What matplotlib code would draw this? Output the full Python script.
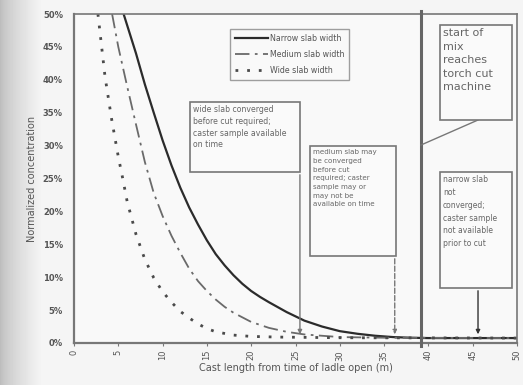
import matplotlib.pyplot as plt
import numpy as np
from matplotlib.patches import Rectangle

# cast length (m) and normalized concentration
narrow_x = [5.6, 7, 8, 9, 10, 11, 12, 13, 14, 15, 16, 17, 18, 19, 20, 21, 22, 24, 26, 28, 30, 32, 34, 36, 38, 40, 50]
narrow_y = [0.50, 0.44, 0.393, 0.35, 0.308, 0.27, 0.236, 0.206, 0.18, 0.156, 0.135, 0.118, 0.103, 0.09, 0.079,
            0.07, 0.062, 0.047, 0.034, 0.025, 0.018, 0.014, 0.011, 0.009, 0.008, 0.0075, 0.0075]

medium_x = [4.3, 5, 6, 7, 8, 9, 10, 11, 12, 13, 14, 15, 16, 17, 18, 20, 22, 24, 26, 28, 30, 35, 50]
medium_y = [0.50, 0.45, 0.39, 0.332, 0.275, 0.228, 0.193, 0.163, 0.137, 0.113, 0.094, 0.079, 0.066, 0.055,
            0.046, 0.032, 0.023, 0.017, 0.013, 0.011, 0.009, 0.008, 0.0075]

wide_x = [2.7, 3.5, 4.25, 5, 5.5, 6, 7, 8, 9, 10, 11, 12, 13, 14, 15, 16, 18, 20, 23, 30, 50]
wide_y = [0.50, 0.405, 0.34, 0.283, 0.25, 0.215, 0.165, 0.127, 0.099, 0.078, 0.062, 0.048, 0.038, 0.029,
          0.022, 0.017, 0.012, 0.010, 0.009, 0.008, 0.0075]

x_ticks = [0, 5, 10, 15, 20, 25, 30, 35, 40, 45, 50]
y_ticks = [0, 0.05, 0.10, 0.15, 0.20, 0.25, 0.30, 0.35, 0.40, 0.45, 0.50]

wide_marker_x = 25.5
medium_marker_x = 36.2
torch_x = 39.2
narrow_marker_x = 45.6

W, H = 523, 385
L, R, T, B = 74, 517, 14, 343

fig = plt.figure(figsize=(W / 100, H / 100), dpi=100, facecolor='#f3f3f3')

# darker scan shading on the left edge
bg = fig.add_axes([0, 0, 1, 1], zorder=-5)
grad = np.linspace(0, 1, 523)
shade = np.clip(grad / 0.08, 0, 1) ** 0.7
img = 0.74 + 0.22 * shade
bg.imshow(np.tile(img, (10, 1)), cmap='gray', vmin=0, vmax=1, aspect='auto', extent=[0, 1, 0, 1])
bg.axis('off')

ax = fig.add_axes([L / W, 1 - B / H, (R - L) / W, (B - T) / H])
ax.set_facecolor('#f9f9f9')


def fx(px):
    return (px - L) / (R - L)


def fy(py):
    return (B - py) / (B - T)


ax.plot(narrow_x, narrow_y, color='#2b2b2b', lw=1.6, label='Narrow slab width')
ax.plot(medium_x, medium_y, color='#6a6a6a', lw=1.3, ls=(0, (8, 3, 1.5, 3)), label='Medium slab width')
ax.plot(wide_x, wide_y, color='#4a4a4a', lw=2.0, ls=(0, (1, 3.2)), label='Wide slab width')

ax.set_xlim(0, 50)
ax.set_ylim(0, 0.5)
ax.set_xticks(x_ticks)
ax.set_xticklabels([str(v) for v in x_ticks], rotation=90, fontsize=6, color='#555')
ax.set_yticks(y_ticks)
ax.set_yticklabels(['%d%%' % round(v * 100) for v in y_ticks], fontsize=6, color='#555', fontweight='bold')
ax.tick_params(axis='x', length=2, color='#777', pad=3)
ax.tick_params(axis='y', length=0, pad=8)
for s in ax.spines.values():
    s.set_color('#777')
    s.set_linewidth(1.2)
ax.spines['left'].set_linewidth(1.6)
ax.spines['bottom'].set_linewidth(1.6)

ax.set_xlabel('Cast length from time of ladle open (m)', fontsize=7, color='#555', labelpad=2)
ax.set_ylabel('Normalized concentration', fontsize=7, color='#555', labelpad=4)

leg = ax.legend(loc='upper left', bbox_to_anchor=(fx(226), fy(25)), fontsize=5.7, frameon=True,
                fancybox=False, edgecolor='#888', handlelength=4.2, labelspacing=0.9, borderpad=0.6,
                handletextpad=0.2)
leg.get_frame().set_linewidth(1.0)
leg.get_frame().set_facecolor('#fafafa')
for t in leg.get_texts():
    t.set_color('#555')


def box(x0, y0, x1, y1, text, size, spacing):
    ax.add_patch(Rectangle((fx(x0), fy(y1)), fx(x1) - fx(x0), fy(y0) - fy(y1), transform=ax.transAxes,
                           fill=True, facecolor='#fafafa', edgecolor='#777', lw=1.2, zorder=4))
    ax.text(fx(x0 + 3), fy(y0 + 3), text, transform=ax.transAxes, ha='left', va='top', fontsize=size,
            color='#666', linespacing=spacing, zorder=5)


box(190, 102, 300, 172, 'wide slab converged\nbefore cut required;\ncaster sample available\non time', 5.6, 1.4)
box(310, 146, 396, 256, 'medium slab may\nbe converged\nbefore cut\nrequired; caster\nsample may or\nmay not be\navailable on time',
    5.1, 1.55)
box(440, 25, 512, 120, 'start of\nmix\nreaches\ntorch cut\nmachine', 8.0, 1.45)
box(440, 172, 512, 288, 'narrow slab\nnot\nconverged;\ncaster sample\nnot available\nprior to cut', 5.5, 1.55)

# vertical markers
ax.annotate('', xy=(wide_marker_x, 0.009), xytext=(wide_marker_x, fy(172) * 0.5),
            arrowprops=dict(arrowstyle='-|>', color='#777', lw=1.0, mutation_scale=6))
ax.annotate('', xy=(medium_marker_x, 0.009), xytext=(medium_marker_x, fy(256) * 0.5),
            arrowprops=dict(arrowstyle='-|>', color='#777', lw=1.0, ls='--', mutation_scale=6))
ax.annotate('', xy=(narrow_marker_x, 0.009), xytext=(narrow_marker_x, fy(288) * 0.5),
            arrowprops=dict(arrowstyle='-|>', color='#333', lw=1.0, mutation_scale=6))
ax.plot([torch_x, torch_x], [-0.004, 0.505], color='#666', lw=2.2, clip_on=False, zorder=3)
ax.plot([fx(478), fx(421)], [fy(120), fy(145)], transform=ax.transAxes, color='#777', lw=1.0, zorder=3)

fig.savefig('out.png', dpi=100, facecolor=fig.get_facecolor())
